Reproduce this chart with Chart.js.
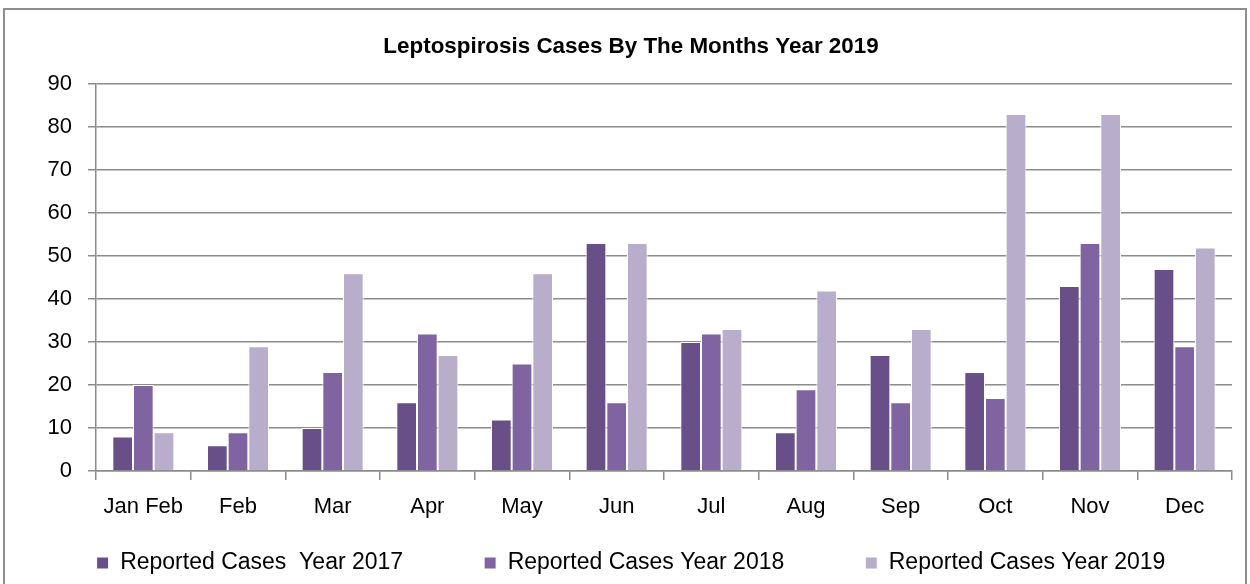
<!DOCTYPE html>
<html>
<head>
<meta charset="utf-8">
<script src="https://cdn.jsdelivr.net/npm/chart.js@4/dist/chart.umd.min.js"></script>
<style>
  html, body { margin: 0; padding: 0; background: #ffffff; }
  #wrap { position: relative; width: 1250px; height: 584px; overflow: hidden; }
  #frame { position: absolute; left: 3px; top: 8px; width: 1244px; height: 620px; border: 2px solid #8e8e8e; box-sizing: border-box; }
  canvas { position: absolute; left: 0; top: 0; }
</style>
</head>
<body>
<div id="wrap">
  <div id="frame"></div>
  <canvas id="c" width="1250" height="584"></canvas>
</div>
<script>
const categories = ['Jan Feb', 'Feb', 'Mar', 'Apr', 'May', 'Jun', 'Jul', 'Aug', 'Sep', 'Oct', 'Nov', 'Dec'];
const seriesNames = ['Reported Cases  Year 2017', 'Reported Cases Year 2018', 'Reported Cases Year 2019'];
const cases2017 = [8, 6, 10, 16, 12, 53, 30, 9, 27, 23, 43, 47];
const cases2018 = [20, 9, 23, 32, 25, 16, 32, 19, 16, 17, 53, 29];
const cases2019 = [9, 29, 46, 27, 46, 53, 33, 42, 33, 83, 83, 52];
const yMin = 0, yMax = 90, yStep = 10;
const chartTitle = 'Leptospirosis Cases By The Months Year 2019';

const colors = ['#684f88', '#8064a2', '#b8adcb'];
const gridColor = '#8c8c8c';
const fontFamily = '"Liberation Sans", Arial, sans-serif';

const seriesValues = [cases2017, cases2018, cases2019];
const datasets = seriesValues.map((vals, i) => ({
  label: seriesNames[i],
  data: vals,
  backgroundColor: colors[i],
  borderColor: '#ffffff',
  borderWidth: 1,
  barPercentage: 1.0,
  categoryPercentage: 0.655
}));

// Moves the library-drawn legend up so its row sits just under the axis labels.
const legendPlacer = {
  id: 'legendPlacer',
  afterLayout(chart) {
    const lg = chart.legend;
    if (!lg) return;
    const h = lg.bottom - lg.top;
    lg.top = 470.5;
    lg.bottom = 470.5 + h;
  }
};

new Chart(document.getElementById('c'), {
  type: 'bar',
  data: { labels: categories, datasets },
  plugins: [legendPlacer],
  options: {
    responsive: false,
    animation: false,
    devicePixelRatio: 1,
    layout: { padding: { left: 12, right: 0, top: 0, bottom: -53 } },
    plugins: {
      title: {
        display: true,
        text: chartTitle,
        color: '#000000',
        font: { family: fontFamily, size: 22.4, weight: 'bold' },
        padding: { top: 33, bottom: 24.1 }
      },
      legend: {
        display: true,
        position: 'bottom',
        labels: {
          color: '#000000',
          font: { family: fontFamily, size: 23 },
          boxWidth: 12,
          boxHeight: 12,
          padding: 81
        }
      },
      tooltip: { enabled: false }
    },
    scales: {
      x: {
        grid: { display: true, drawOnChartArea: false, drawTicks: true, tickLength: 9, color: gridColor, lineWidth: 1.5, offset: true },
        border: { display: true, color: gridColor, width: 1.5 },
        ticks: { color: '#000000', font: { family: fontFamily, size: 22 }, padding: 14, maxRotation: 0, autoSkip: false },
        afterFit: (s) => { s.height = 52; }
      },
      y: {
        min: yMin,
        max: yMax,
        grid: { color: gridColor, lineWidth: 1.5, drawTicks: true, tickLength: 8 },
        border: { display: true, color: gridColor, width: 1.5 },
        ticks: { stepSize: yStep, color: '#000000', font: { family: fontFamily, size: 22 }, padding: 16 },
        afterFit: (s) => { s.width = 84; }
      },
      y2: {
        position: 'right',
        display: true,
        grid: { display: false, drawTicks: false },
        border: { display: false },
        ticks: { display: false },
        afterFit: (s) => { s.width = 18; }
      }
    }
  }
});
</script>
</body>
</html>
